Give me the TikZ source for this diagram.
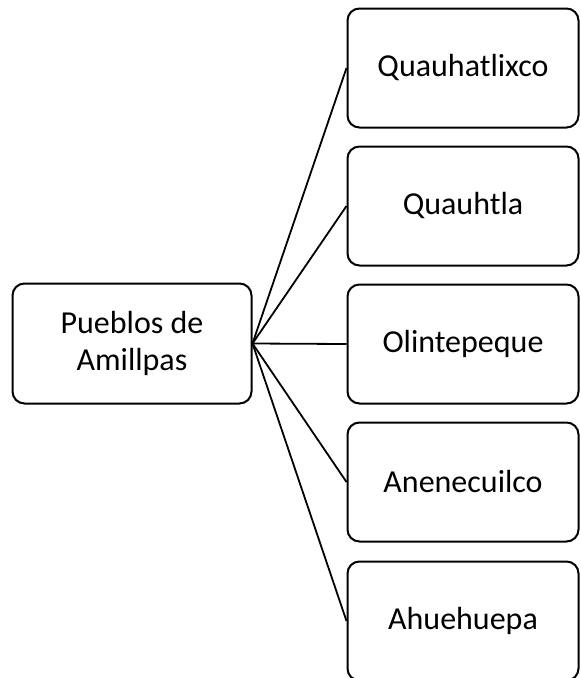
\documentclass[tikz,border=0pt]{standalone}
\usepackage{fontspec}
\setmainfont{Carlito}
\begin{document}
\begin{tikzpicture}
[x=1pt,y=-1pt,
mybox/.style={rectangle,rounded corners=12pt,minimum width=231pt,minimum height=119pt,align=center,draw=black,line width=2pt,font=\fontsize{32}{37}\selectfont},
rootbox/.style={mybox,minimum width=239pt,minimum height=120pt},
]
\useasboundingbox (0,0) rectangle (581,678);

\node [rootbox] (P) at (132,343.5){Pueblos de\\Amillpas};
\node [mybox] (A) at (463,68){Quauhatlixco};
\node [mybox] (B) at (463,206){Quauhtla};
\node [mybox] (C) at (463,344){Olintepeque};
\node [mybox] (D) at (463,482){Anenecuilco};
\node [mybox] (E) at (463,621){Ahuehuepa};

\draw[line width=1.8pt] (P.east) -- (A.west);
\draw[line width=1.8pt] (P.east) -- (B.west);
\draw[line width=1.8pt] (P.east) -- (C.west);
\draw[line width=1.8pt] (P.east) -- (D.west);
\draw[line width=1.8pt] (P.east) -- (E.west);
\end{tikzpicture}
\end{document}
